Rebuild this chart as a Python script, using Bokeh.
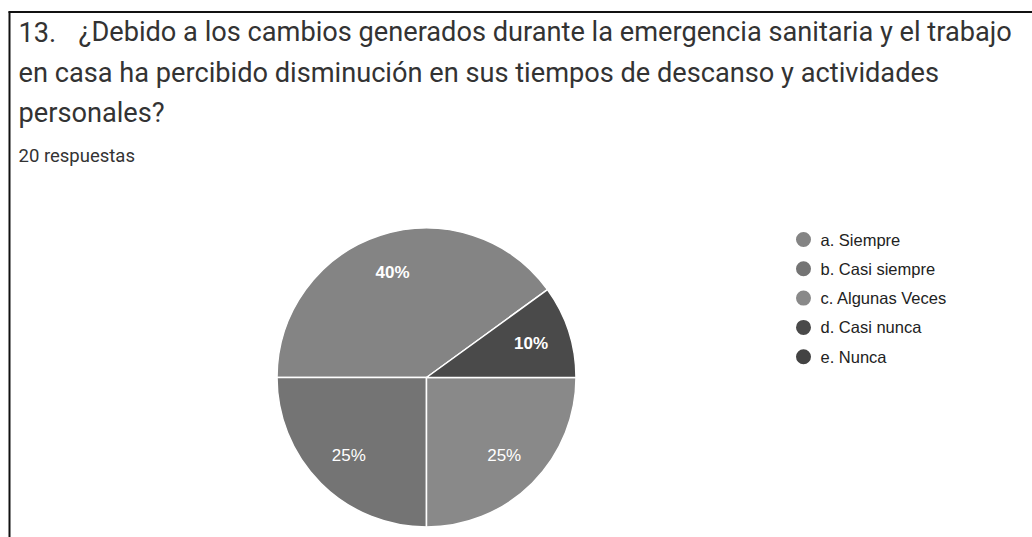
import math
from bokeh.plotting import figure
from bokeh.models import Range1d, ColumnDataSource
from bokeh.core.properties import value
from bokeh.embed import file_html
from bokeh.resources import INLINE

# ---------------- data ----------------
question_number = "13."
title_lines = [
    "¿Debido a los cambios generados durante la emergencia sanitaria y el trabajo",
    "en casa ha percibido disminución en sus tiempos de descanso y actividades",
    "personales?",
]
responses_label = "20 respuestas"
categories = ["a. Siempre", "b. Casi siempre", "c. Algunas Veces", "d. Casi nunca", "e. Nunca"]
counts = [8, 5, 5, 2, 0]
colors = ["#848484", "#747474", "#898989", "#4a4a4a", "#434343"]
label_styles = ["bold", "normal", "normal", "bold", "bold"]

# ---------------- layout (screen pixel helpers) ----------------
W, H = 1032, 537
PAGE_H = 537


def Y(py):
    return PAGE_H - py


p = figure(width=W, height=H, output_backend="svg", toolbar_location=None,
           x_range=Range1d(0, W), y_range=Range1d(PAGE_H - H, PAGE_H),
           min_border=0, min_border_left=0, min_border_right=0,
           min_border_top=0, min_border_bottom=0)
p.axis.visible = False
p.grid.visible = False
p.outline_line_color = None
p.background_fill_color = "white"
p.border_fill_color = "white"

# frame lines (left and top)
p.segment(x0=[9, 8], y0=[Y(11), Y(11.5)], x1=[9, W], y1=[Y(540), Y(11.5)],
          line_color="#111111", line_width=2)

# title
title_font = value("Roboto")
p.text(x=[18], y=[Y(31)], text=[question_number], text_font=title_font,
       text_font_size="27.2px", text_color="#333333", text_baseline="alphabetic")
title_x = [78, 18, 18]
title_y = [Y(31), Y(72), Y(112)]
p.text(x=title_x, y=title_y, text=title_lines, text_font=title_font,
       text_font_size="27.2px", text_color="#333333", text_baseline="alphabetic")
p.text(x=[18], y=[Y(155)], text=[responses_label], text_font=title_font,
       text_font_size="18.5px", text_color="#333333", text_baseline="alphabetic")

# pie
cx, cy, R = 426, Y(377), 149.5
start_deg = 36.0
total = float(sum(counts))
starts, ends, cols, labs, lx, ly, lst = [], [], [], [], [], [], []
acc = math.radians(start_deg)
for cat, c, col, st in zip(categories, counts, colors, label_styles):
    if c <= 0:
        continue
    ang = 2 * math.pi * c / total
    starts.append(acc)
    ends.append(acc + ang)
    cols.append(col)
    mid = acc + ang / 2
    labs.append(f"{round(100 * c / total)}%")
    lx.append(cx + 0.735 * R * math.cos(mid))
    ly.append(cy + 0.735 * R * math.sin(mid))
    lst.append(st)
    acc += ang

src = ColumnDataSource(dict(start=starts, end=ends, color=cols))
p.wedge(x=cx, y=cy, radius=R, start_angle="start", end_angle="end",
        direction="anticlock", fill_color="color", line_color="white",
        line_width=1.5, source=src)
lsrc = ColumnDataSource(dict(x=lx, y=ly, t=labs, s=lst))
p.text(x="x", y="y", text="t", text_font_style="s", source=lsrc,
       text_font=value("Liberation Sans"), text_font_size="17px",
       text_color="white", text_align="center", text_baseline="middle")

# legend
leg_x = 803
leg_y = [Y(239 + 29.3 * i) for i in range(len(categories))]
p.scatter(x=[leg_x] * len(categories), y=leg_y, marker="circle", size=15,
          fill_color=colors, line_color=None)
p.text(x=[leg_x + 17] * len(categories), y=leg_y, text=categories,
       text_font=value("Liberation Sans"), text_font_size="16.5px",
       text_color="#222222", text_baseline="middle")

open("out.html", "w").write(file_html(p, INLINE))
